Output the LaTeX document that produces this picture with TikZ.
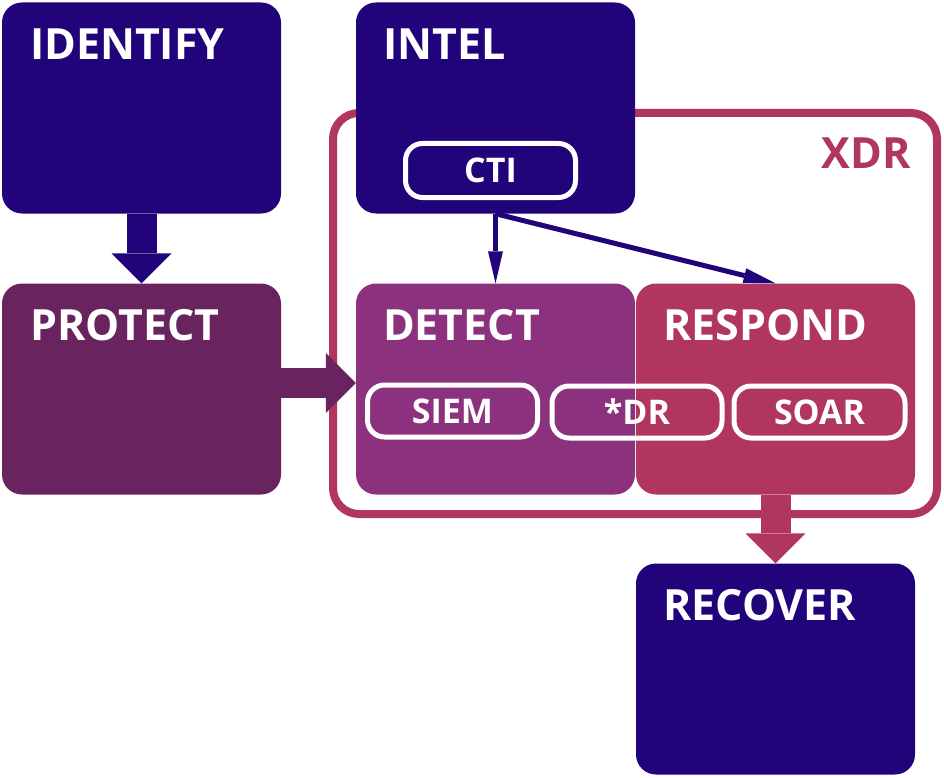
\documentclass[tikz,border=0pt]{standalone}
\usepackage{fontspec}
\setmainfont{Open Sans}
\usetikzlibrary{arrows.meta}
\definecolor{navy}{RGB}{33,4,122}
\definecolor{plum}{RGB}{105,35,94}
\definecolor{orchid}{RGB}{139,49,126}
\definecolor{rose}{RGB}{176,54,95}
\begin{document}
\begin{tikzpicture}[x=1pt, y=-1pt,
    box/.style={rounded corners=20pt, minimum width=279pt, minimum height=211pt, inner sep=0pt},
    title/.style={anchor=base west, text=white, inner sep=0pt, font=\bfseries\fontsize{43}{43}\selectfont},
    pill/.style={draw=white, line width=5pt, rounded corners=17pt, minimum height=52pt, inner sep=0pt, text=white, font=\bfseries\fontsize{34}{34}\selectfont},
    fat/.style={line width=30pt, -{Triangle[length=30pt, width=60pt, line width=0pt]}},
    thin/.style={draw=navy, line width=5pt, -{Triangle[length=32pt, width=15pt, line width=0pt]}}]
  \useasboundingbox (0,0) rectangle (944,778);

  % XDR frame
  \node[draw=rose, line width=8pt, rounded corners=26pt, minimum width=604pt, minimum height=401pt] (xdr) at (635,313.5) {};
  \node[anchor=base east, text=rose, inner sep=0pt, font=\bfseries\fontsize{43}{43}\selectfont] (xdrlabel) at ([shift={(-30,60)}]xdr.north east) {XDR};

  % boxes
  \node[box, fill=navy] (identify) at (141.5,108) {};
  \node[box, fill=navy] (intel) at (495.5,108) {};
  \node[box, fill=plum] (protect) at (141.5,389) {};
  \node[box, fill=orchid] (detect) at (495.5,389) {};
  \node[box, fill=rose] (respond) at (775.5,389) {};
  \node[box, fill=navy] (recover) at (775.5,669) {};

  \node[title] (identifyt) at ([shift={(28,57)}]identify.north west) {IDENTIFY};
  \node[title] (intelt) at ([shift={(27,57)}]intel.north west) {INTEL};
  \node[title] (protectt) at ([shift={(28,57)}]protect.north west) {PROTECT};
  \node[title] (detectt) at ([shift={(27,57)}]detect.north west) {DETECT};
  \node[title] (respondt) at ([shift={(27,57)}]respond.north west) {RESPOND};
  \node[title] (recovert) at ([shift={(27,57)}]recover.north west) {RECOVER};

  % tools
  \node[pill, minimum width=170pt, minimum height=54pt] (cti) at (490.5,170.5) {CTI};
  \node[pill, minimum width=170pt] (siem) at (452.5,411) {SIEM};
  \node[pill, minimum width=170pt] (edr) at (637,412) {*DR};
  \node[pill, minimum width=171pt] (soar) at (819.5,412) {SOAR};

  % arrows
  \draw[fat, navy] (identify.south) -- (protect.north);
  \draw[fat, plum] ([yshift=6pt]protect.east) -- ([yshift=6pt]detect.west);
  \draw[fat, rose] (respond.south) -- (recover.north);
  \draw[thin] (intel.south) -- (detect.north);
  \draw[thin] (intel.south) -- (respond.north);
\end{tikzpicture}
\end{document}
